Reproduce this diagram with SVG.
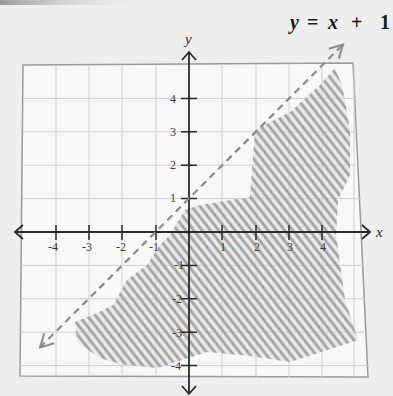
<svg xmlns="http://www.w3.org/2000/svg" width="393" height="396" viewBox="0 0 393 396">
<style>
.grid{stroke:#cfcfcf;stroke-width:1;fill:none}
.border{stroke:#9a9a9a;stroke-width:1.5;fill:#f8f8f8}
.axis{stroke:#2a2a2a;stroke-width:1.8;fill:none}
.tick{stroke:#2a2a2a;stroke-width:1.5}
.num{font-family:"Liberation Serif",serif;font-size:12px;fill:#3a3a3a}
.var{font-family:"Liberation Serif",serif;font-style:italic;font-size:15px;fill:#2a2a2a}
.title{font-family:"Liberation Serif",serif;font-weight:bold;font-size:20px;fill:#1a1a1a}
.dash{stroke:#8a8a8a;stroke-width:2.2;stroke-dasharray:7 5;fill:none}
</style>
<defs>
<marker id="ax" markerUnits="userSpaceOnUse" markerWidth="30" markerHeight="30" viewBox="-15 -15 30 30" refX="0" refY="0" orient="auto-start-reverse" overflow="visible">
<path d="M-8 -7 L0 0 L-8 7" fill="none" stroke="#2a2a2a" stroke-width="1.8"/>
</marker>
<marker id="da" markerUnits="userSpaceOnUse" markerWidth="30" markerHeight="30" viewBox="-15 -15 30 30" refX="0" refY="0" orient="auto-start-reverse" overflow="visible">
<path d="M-13 -7 L0 0 L-13 7" fill="none" stroke="#8a8a8a" stroke-width="2"/>
</marker>
<pattern id="hatch" patternUnits="userSpaceOnUse" width="6.5" height="6.5" patternTransform="rotate(52)">
<line x1="0" y1="2" x2="6.5" y2="2" stroke="#a2a2a2" stroke-width="2.8"/>
</pattern>
<linearGradient id="smudge" x1="0" y1="0" x2="1" y2="0">
<stop offset="0" stop-color="#9a9a9a"/>
<stop offset="1" stop-color="#eeeeee" stop-opacity="0"/>
</linearGradient>
</defs>
<rect width="393" height="396" fill="#eeeeee"/>
<rect x="0" y="0" width="150" height="5" fill="url(#smudge)"/>

<g id="grid">
<polygon class="border" points="23,65 353,63 368,377 20,376"/>
<path class="grid" d="M56 65V376M89 65V376M122 65V376M156 65V376M222 64V376M256 64V377M289 64V377M322 64V377M354 63V377
M23 98.4H356M23 131.8H358M22 165.2H359M22 198.6H361M21 265.4H363M21 298.8H365M20 332.2H366M20 365.6H368"/>
</g>

<g id="shading">
<polygon points="75,322 97,313 113,305 127,280 147,265 160,245 170,235 185,210 200,205 250,197 255,130 290,112 320,85 335,68 342,85 350,130 350,175 338,200 336,235 345,300 358,340 318,353 290,362 250,356 207,352 157,368 120,364 100,358 77,342" fill="#dedede" fill-opacity="0.55"/>
<polygon points="75,322 97,313 113,305 127,280 147,265 160,245 170,235 185,210 200,205 250,197 255,130 290,112 320,85 335,68 342,85 350,130 350,175 338,200 336,235 345,300 358,340 318,353 290,362 250,356 207,352 157,368 120,364 100,358 77,342" fill="url(#hatch)"/>
</g>

<g id="axes">
<line class="axis" x1="15" y1="232" x2="370" y2="232" marker-start="url(#ax)" marker-end="url(#ax)"/>
<line class="axis" x1="189" y1="394" x2="189" y2="52" marker-start="url(#ax)" marker-end="url(#ax)"/>
<path class="tick" d="M56 225V240M89 225V240M122 225V240M156 225V240M222 225V240M256 225V240M289 225V240M322 225V240
M181 98.4H197M181 131.8H197M181 165.2H197M181 198.6H197M181 265.4H197M181 298.8H197M181 332.2H197M181 365.6H197"/>
</g>

<g id="labels">
<text class="var" x="376" y="237">x</text>
<text class="var" x="185" y="44">y</text>
<text class="num" x="176" y="103" text-anchor="end">4</text>
<text class="num" x="176" y="136" text-anchor="end">3</text>
<text class="num" x="176" y="169" text-anchor="end">2</text>
<text class="num" x="176" y="202" text-anchor="end">1</text>
<text class="num" x="184" y="269" text-anchor="end">-1</text>
<text class="num" x="182" y="303" text-anchor="end">-2</text>
<text class="num" x="182" y="337" text-anchor="end">-3</text>
<text class="num" x="181" y="370" text-anchor="end">-4</text>
<text class="num" x="53" y="251" text-anchor="middle">-4</text>
<text class="num" x="87" y="251" text-anchor="middle">-3</text>
<text class="num" x="121" y="251" text-anchor="middle">-2</text>
<text class="num" x="154" y="251" text-anchor="middle">-1</text>
<text class="num" x="223" y="251" text-anchor="middle">1</text>
<text class="num" x="257" y="251" text-anchor="middle">2</text>
<text class="num" x="290" y="251" text-anchor="middle">3</text>
<text class="num" x="323" y="251" text-anchor="middle">4</text>
<text class="title" y="29"><tspan x="290" font-style="italic">y</tspan><tspan x="307">=</tspan><tspan x="328" font-style="italic">x</tspan><tspan x="351">+</tspan><tspan x="380">1</tspan></text>
</g>

<g id="connectors">
<line class="dash" x1="40" y1="347.5" x2="343" y2="44.5" marker-start="url(#da)" marker-end="url(#da)"/>
</g>
</svg>
